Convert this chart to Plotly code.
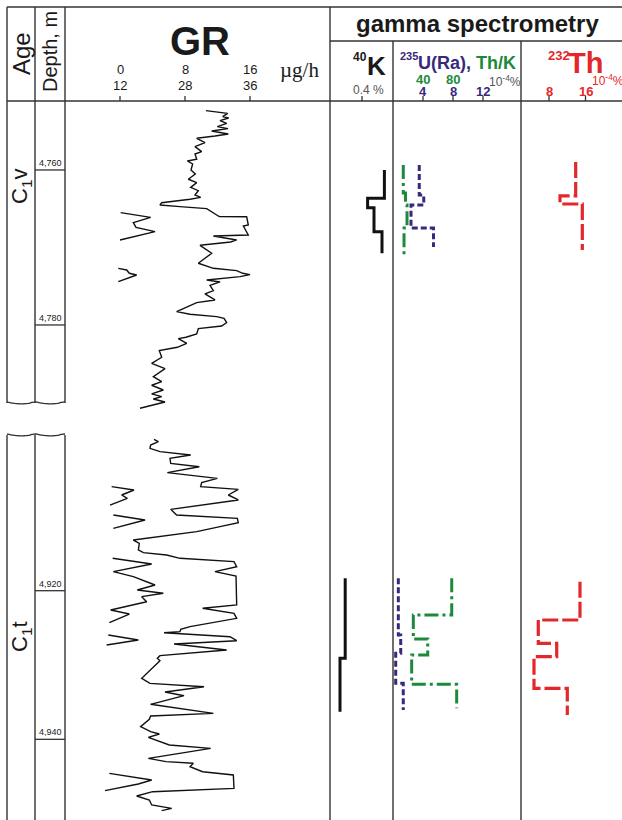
import plotly.graph_objects as go

# ---------------- data ----------------
# Depth marks (m) on the two logged intervals
TOP_MARKS = [4760, 4780]
BOT_MARKS = [4920, 4940]

# GR log, upper interval (C1v): value in µg/h, depth in m
GR_TOP_VALUE = [10.58, 13.25, 12.64, 13.37, 12.31, 13.13, 11.98, 13.29, 11.28, 13.33,
                11.69, 9.44, 10.46, 9.23, 10.05, 9.23, 9.44, 8.29, 8.94, 8.74,
                9.27, 8.41, 9.44, 8.70, 9.64, 9.23, 9.93, 8.62, 5.13, 4.92,
                7.38, 10.67, 11.90, 12.23, 15.59, 15.79, 15.18, 15.79, 11.49, 14.36,
                13.62, 9.85, 11.28, 9.64, 11.49, 14.36, 15.10, 16.00, 14.77, 10.67,
                12.31, 11.08, 11.49, 10.46, 11.69, 9.44, 6.97, 8.62, 11.90, 12.80,
                13.13, 12.51, 9.64, 9.44, 8.12, 7.18, 8.21, 7.06, 4.84, 5.13,
                3.90, 5.54, 4.10, 5.13, 3.90, 5.33, 3.90, 5.13, 4.10, 5.54, 2.46]
GR_TOP_DEPTH = [4752.34, 4752.69, 4753.12, 4753.29, 4753.63, 4753.98, 4754.41, 4754.67, 4754.97, 4755.35,
                4755.61, 4755.91, 4756.47, 4756.99, 4757.63, 4757.94, 4758.62, 4758.84, 4759.23, 4760.00,
                4760.52, 4761.20, 4761.63, 4762.24, 4762.67, 4763.23, 4763.53, 4763.78, 4764.22, 4764.52,
                4764.73, 4764.99, 4765.81, 4766.02, 4766.03, 4767.10, 4767.23, 4768.39, 4768.52, 4769.03,
                4769.29, 4769.72, 4770.75, 4772.04, 4772.69, 4772.99, 4773.33, 4773.51, 4773.76, 4774.19,
                4774.45, 4774.88, 4775.57, 4776.00, 4776.77, 4777.12, 4778.28, 4778.62, 4778.92, 4779.14,
                4779.70, 4780.13, 4780.47, 4781.16, 4781.59, 4781.76, 4782.37, 4782.88, 4783.31, 4784.17,
                4784.95, 4785.63, 4786.67, 4787.31, 4787.78, 4788.39, 4788.90, 4789.25, 4789.55, 4789.94, 4790.75]
# wrapped (backup scale) pieces of the upper GR log
GR_TOP_WRAP_VALUE = [0.08, 3.77, 1.64, 1.97, 4.31, 0.00, None,
                     -0.21, 0.82, 1.15, 2.05, -0.21]
GR_TOP_WRAP_DEPTH = [4765.51, 4766.11, 4766.80, 4767.40, 4767.96, 4769.03, None,
                     4772.69, 4772.90, 4773.33, 4773.55, 4774.41]

# GR log, lower interval (C1t)
GR_BOT_VALUE = [4.18, 4.72, 3.77, 3.69, 4.92, 8.70, 6.15, 6.24, 9.76, 5.83,
                11.98, 10.05, 9.93, 14.56, 13.33, 14.56, 6.24, 6.97, 14.44, 14.56,
                12.31, 9.44, 1.64, 2.38, 2.26, 2.87, 5.74, 7.38, 14.03, 14.36,
                11.69, 14.28, 14.36, 10.17, 14.03, 14.36, 8.62, 7.47, 7.38, 5.42,
                13.54, 14.36, 6.65, 13.13, 4.92, 4.59, 4.92, 2.67, 3.69, 10.34,
                5.54, 7.88, 3.77, 11.49, 3.77, 3.61, 2.54, 3.77, 4.84, 3.49,
                6.07, 11.16, 3.49, 5.66, 9.03, 8.62, 10.17, 13.95, 14.03, 4.02,
                2.05, 3.61, 3.90, 5.25, 6.36, 5.13]
GR_BOT_DEPTH = [4899.63, 4899.94, 4900.39, 4900.84, 4901.29, 4901.74, 4902.18, 4902.86, 4903.31, 4904.11,
                4904.88, 4905.46, 4906.00, 4906.36, 4907.12, 4907.79, 4909.05, 4909.81, 4910.26, 4910.84,
                4911.38, 4912.05, 4913.18, 4913.62, 4914.52, 4914.88, 4915.20, 4915.64, 4916.09, 4916.77,
                4917.44, 4918.02, 4921.92, 4922.37, 4923.05, 4923.72, 4924.84, 4925.20, 4925.51, 4925.65,
                4926.19, 4926.73, 4927.17, 4927.98, 4928.74, 4929.10, 4929.42, 4931.79, 4932.47, 4932.92,
                4933.63, 4934.13, 4935.29, 4936.51, 4936.86, 4937.31, 4938.30, 4938.97, 4939.29, 4939.74,
                4940.77, 4941.22, 4942.56, 4943.01, 4943.23, 4943.68, 4944.36, 4944.80, 4946.60, 4947.05,
                4947.63, 4948.17, 4948.84, 4949.07, 4949.29, 4949.60]
GR_BOT_WRAP_VALUE = [-1.03, 1.72, 0.21, 0.90, -1.23, None,
                     -0.82, 3.08, -0.82, None,
                     -0.90, 3.90, -0.82, 1.64, 4.31, 2.13, 5.33, 2.67, 3.28, -1.15, 1.15, -1.31, None,
                     -1.44, 2.26, -1.64, None,
                     -1.31, 1.23, 3.90, 2.26, -1.85]
GR_BOT_WRAP_DEPTH = [4906.00, 4906.45, 4907.12, 4907.57, 4908.47, None,
                     4909.81, 4910.48, 4911.61, None,
                     4915.64, 4916.41, 4917.44, 4918.11, 4919.23, 4919.91, 4920.35, 4920.80, 4921.48,
                     4922.60, 4923.14, 4924.30, None,
                     4925.96, 4926.64, 4927.31, None,
                     4944.58, 4945.03, 4945.48, 4946.02, 4946.91]

# Gamma spectrometry, stepwise by layer: boundaries (m) and layer values
K_TOP_DEPTH = [4760.00, 4763.65, 4764.86, 4767.96, 4770.75]
K_TOP = [0.68, 0.47, 0.55, 0.65]                       # %
K_BOT_DEPTH = [4918.33, 4929.10, 4936.29]
K_BOT = [0.19, 0.125]

U_TOP_DEPTH = [4759.35, 4763.23, 4764.52, 4767.48, 4769.94]
U_TOP = [3.5, 4.1, 2.4, 5.4]                           # 1e-4 %
U_BOT_DEPTH = [4918.33, 4925.96, 4928.43, 4932.46, 4936.06]
U_BOT = [0.71, 1.03, 0.36, 1.37]

THK_TOP_DEPTH = [4759.35, 4762.97, 4764.52, 4767.48, 4771.35]
THK_TOP = [13.7, 16.7, 18.7, 14.7]
THK_BOT_DEPTH = [4918.33, 4923.27, 4926.50, 4928.65, 4932.60, 4935.83]
THK_BOT = [78.3, 27.1, 46.3, 24.9, 84.9]

TH_TOP_DEPTH = [4758.97, 4763.35, 4764.39, 4770.32]
TH_TOP = [13.85, 10.41, 15.30]                         # 1e-4 %
TH_BOT_DEPTH = [4918.79, 4923.94, 4927.08, 4928.88, 4933.14, 4936.73]
TH_BOT = [14.79, 5.65, 9.69, 4.71, 12.01]

# Header scales
GR_TICKS = [0, 8, 16]
GR_LABELS_1 = ["0", "8", "16"]
GR_LABELS_2 = ["12", "28", "36"]
K_TICKS = [0.4]
U_TICKS = [4, 8, 12]
THK_TICKS = [40, 80]
TH_TICKS = [8, 16]

# ---------------- drawing ----------------
W, H = 622, 820
SANS = "Liberation Sans, Arial, sans-serif"
SERIF = "Liberation Serif, Times New Roman, serif"
FRAME = "#333333"
NAVY = "#372a7c"
GREEN = "#1d8a3b"
RED = "#e3272a"
GRAY = "#555555"


def px(x):
    return x / W


def py(y):
    return 1 - y / H


def steps(bounds, vals):
    xs, ys = [], []
    for i, v in enumerate(vals):
        xs += [v, v]
        ys += [bounds[i], bounds[i + 1]]
    return xs, ys


fig = go.Figure()


def add_line(xs, ys, xa, ya, color, width, dash="solid"):
    fig.add_trace(go.Scatter(x=xs, y=ys, xaxis=xa, yaxis=ya, mode="lines",
                             line=dict(color=color, width=width, dash=dash),
                             hoverinfo="skip", connectgaps=False))


# GR
add_line(GR_TOP_VALUE, GR_TOP_DEPTH, "x", "y", "#111111", 1.4)
add_line(GR_TOP_WRAP_VALUE, GR_TOP_WRAP_DEPTH, "x", "y", "#111111", 1.4)
add_line(GR_BOT_VALUE, GR_BOT_DEPTH, "x", "y2", "#111111", 1.4)
add_line(GR_BOT_WRAP_VALUE, GR_BOT_WRAP_DEPTH, "x", "y2", "#111111", 1.4)

# 40K
add_line(*steps(K_TOP_DEPTH, K_TOP), "x2", "y", "#111111", 3)
add_line(*steps(K_BOT_DEPTH, K_BOT), "x2", "y2", "#111111", 3)

# Th/K and U(Ra)
DASHDOT = "14px,4px,3px,4px"
add_line(*steps(THK_TOP_DEPTH, THK_TOP), "x4", "y", GREEN, 3, DASHDOT)
add_line(*steps(THK_BOT_DEPTH, THK_BOT), "x4", "y2", GREEN, 3, DASHDOT)
add_line(*steps(U_TOP_DEPTH, U_TOP), "x3", "y", NAVY, 3, "6px,3px")
add_line(*steps(U_BOT_DEPTH, U_BOT), "x3", "y2", NAVY, 3, "6px,3px")

# 232Th
add_line(*steps(TH_TOP_DEPTH, TH_TOP), "x5", "y", RED, 3.2, "16px,4px")
add_line(*steps(TH_BOT_DEPTH, TH_BOT), "x5", "y2", RED, 3.2, "16px,4px")

# ---------------- frame ----------------
shapes = []


def hline(y, x0, x1, w=1.4):
    shapes.append(dict(type="line", xref="paper", yref="paper", x0=px(x0), x1=px(x1),
                       y0=py(y), y1=py(y), line=dict(color=FRAME, width=w)))


def vline(x, y0, y1, w=1.4):
    shapes.append(dict(type="line", xref="paper", yref="paper", x0=px(x), x1=px(x),
                       y0=py(y0), y1=py(y1), line=dict(color=FRAME, width=w)))


hline(7, 7, 622)
hline(101, 7, 622)
hline(41, 330, 622)
for xc in (7, 35, 65):
    vline(xc, 7, 403)
    vline(xc, 435, 820)
vline(330, 7, 820)
vline(393, 41, 820)
vline(521, 41, 820)


def wave(y0):
    pts = []
    n = 58
    for i in range(n + 1):
        x = 7 + i
        t = (x - 7) % 29 / 29.0
        dy = 1.8 * (4 * t * (1 - t)) - 0.4 * (1 if t > 0.8 else 0)
        pts.append((px(x), py(y0 + dy)))
    return "M " + " L ".join(f"{a:.5f},{b:.5f}" for a, b in pts)


for yw in (402, 434):
    shapes.append(dict(type="path", xref="paper", yref="paper", path=wave(yw),
                       line=dict(color=FRAME, width=1.3)))

# depth mark lines in the depth column
for d in TOP_MARKS:
    shapes.append(dict(type="line", xref="paper", yref="y", x0=px(35), x1=px(65), y0=d, y1=d,
                       line=dict(color=FRAME, width=1.3)))
for d in BOT_MARKS:
    shapes.append(dict(type="line", xref="paper", yref="y2", x0=px(35), x1=px(65), y0=d, y1=d,
                       line=dict(color=FRAME, width=1.3)))

# header ticks
for ax, vals in (("x", GR_TICKS), ("x2", K_TICKS), ("x3", U_TICKS), ("x5", TH_TICKS)):
    for v in vals:
        shapes.append(dict(type="line", xref=ax, yref="paper", x0=v, x1=v, y0=py(101), y1=py(96),
                           line=dict(color=FRAME, width=1.3)))

# ---------------- text ----------------
ann = []


def note(text, x, y, size, color="#1a1a1a", xref="paper", angle=0, family=SANS,
         xanchor="center", yanchor="middle", yref="paper"):
    ann.append(dict(text=text, x=px(x) if xref == "paper" else x, y=py(y) if yref == "paper" else y,
                    xref=xref, yref=yref, showarrow=False, textangle=angle,
                    xanchor=xanchor, yanchor=yanchor,
                    font=dict(size=size, color=color, family=family)))


note("Age", 21, 54, 24, angle=-90)
note("Depth, m", 50, 52, 20, angle=-90)
note("<b>GR</b>", 200, 41, 40)
for v, l1, l2 in zip(GR_TICKS, GR_LABELS_1, GR_LABELS_2):
    note(l1, v, 70, 13, xref="x")
    note(l2, v, 86, 13, xref="x")
note("µg/h", 299, 70, 21, family=SERIF)

note("<b>gamma spectrometry</b>", 477, 23, 24)
note("<b>40</b>", 360, 57, 12)
note("<b>K</b>", 376, 66, 26)
note("0.4 %", 368, 90, 12, color=GRAY)

note("<b>235</b>", 409, 56, 11, color=NAVY)
note(f"<b><span style='color:{NAVY}'>U(Ra),</span> <span style='color:{GREEN}'>Th/K</span></b>",
     416, 63, 18, color=NAVY, xanchor="left")
for v in THK_TICKS:
    note(f"<b>{v}</b>", v, 80, 13, color=GREEN, xref="x4")
for v in U_TICKS:
    note(f"<b>{v}</b>", v, 92, 13, color=NAVY, xref="x3")
note("10<sup>-4</sup>%", 505, 81, 12, color=GRAY)

note("<b>232</b>", 559, 55, 13, color=RED)
note("<b>Th</b>", 585, 63, 29, color=RED)
note("10<sup>-4</sup>%", 608, 80, 12, color=RED)
for v in TH_TICKS:
    note(f"<b>{v}</b>", v, 92, 13, color=RED, xref="x5")

# depth labels just above the mark lines
for d in TOP_MARKS:
    note(f"{d:,}", 50, 0, 9, xref="paper", yref="y", yanchor="bottom")
    ann[-1]["y"] = d
for d in BOT_MARKS:
    note(f"{d:,}", 50, 0, 9, xref="paper", yref="y2", yanchor="bottom")
    ann[-1]["y"] = d

note("C<sub>1</sub>v", 21, 187, 22, angle=-90)
note("C<sub>1</sub>t", 21, 637, 22, angle=-90)

# ---------------- axes ----------------
hidden = dict(visible=False, showgrid=False, zeroline=False, fixedrange=True)
fig.update_layout(
    width=W, height=H, margin=dict(l=0, r=0, t=0, b=0),
    paper_bgcolor="white", plot_bgcolor="rgba(0,0,0,0)", showlegend=False,
    xaxis=dict(domain=[px(65), px(330)], range=[-6.769, 25.846], anchor="y2", **hidden),
    xaxis2=dict(domain=[px(330), px(393)], range=[0, 0.7875], anchor="y2", **hidden),
    xaxis3=dict(domain=[px(393), px(521)], range=[0, 17.0667], anchor="y2", **hidden),
    xaxis4=dict(domain=[px(393), px(521)], range=[0, 170.667], anchor="y2", **hidden),
    xaxis5=dict(domain=[px(521), 1], range=[1.863, 24.0], anchor="y2", **hidden),
    yaxis=dict(domain=[py(412), py(101)], range=[4791.23, 4751.10], anchor="x", **hidden),
    yaxis2=dict(domain=[0, py(434)], range=[4950.86, 4898.91], anchor="x", **hidden),
    shapes=shapes, annotations=ann,
)

fig.write_html("out.html")
